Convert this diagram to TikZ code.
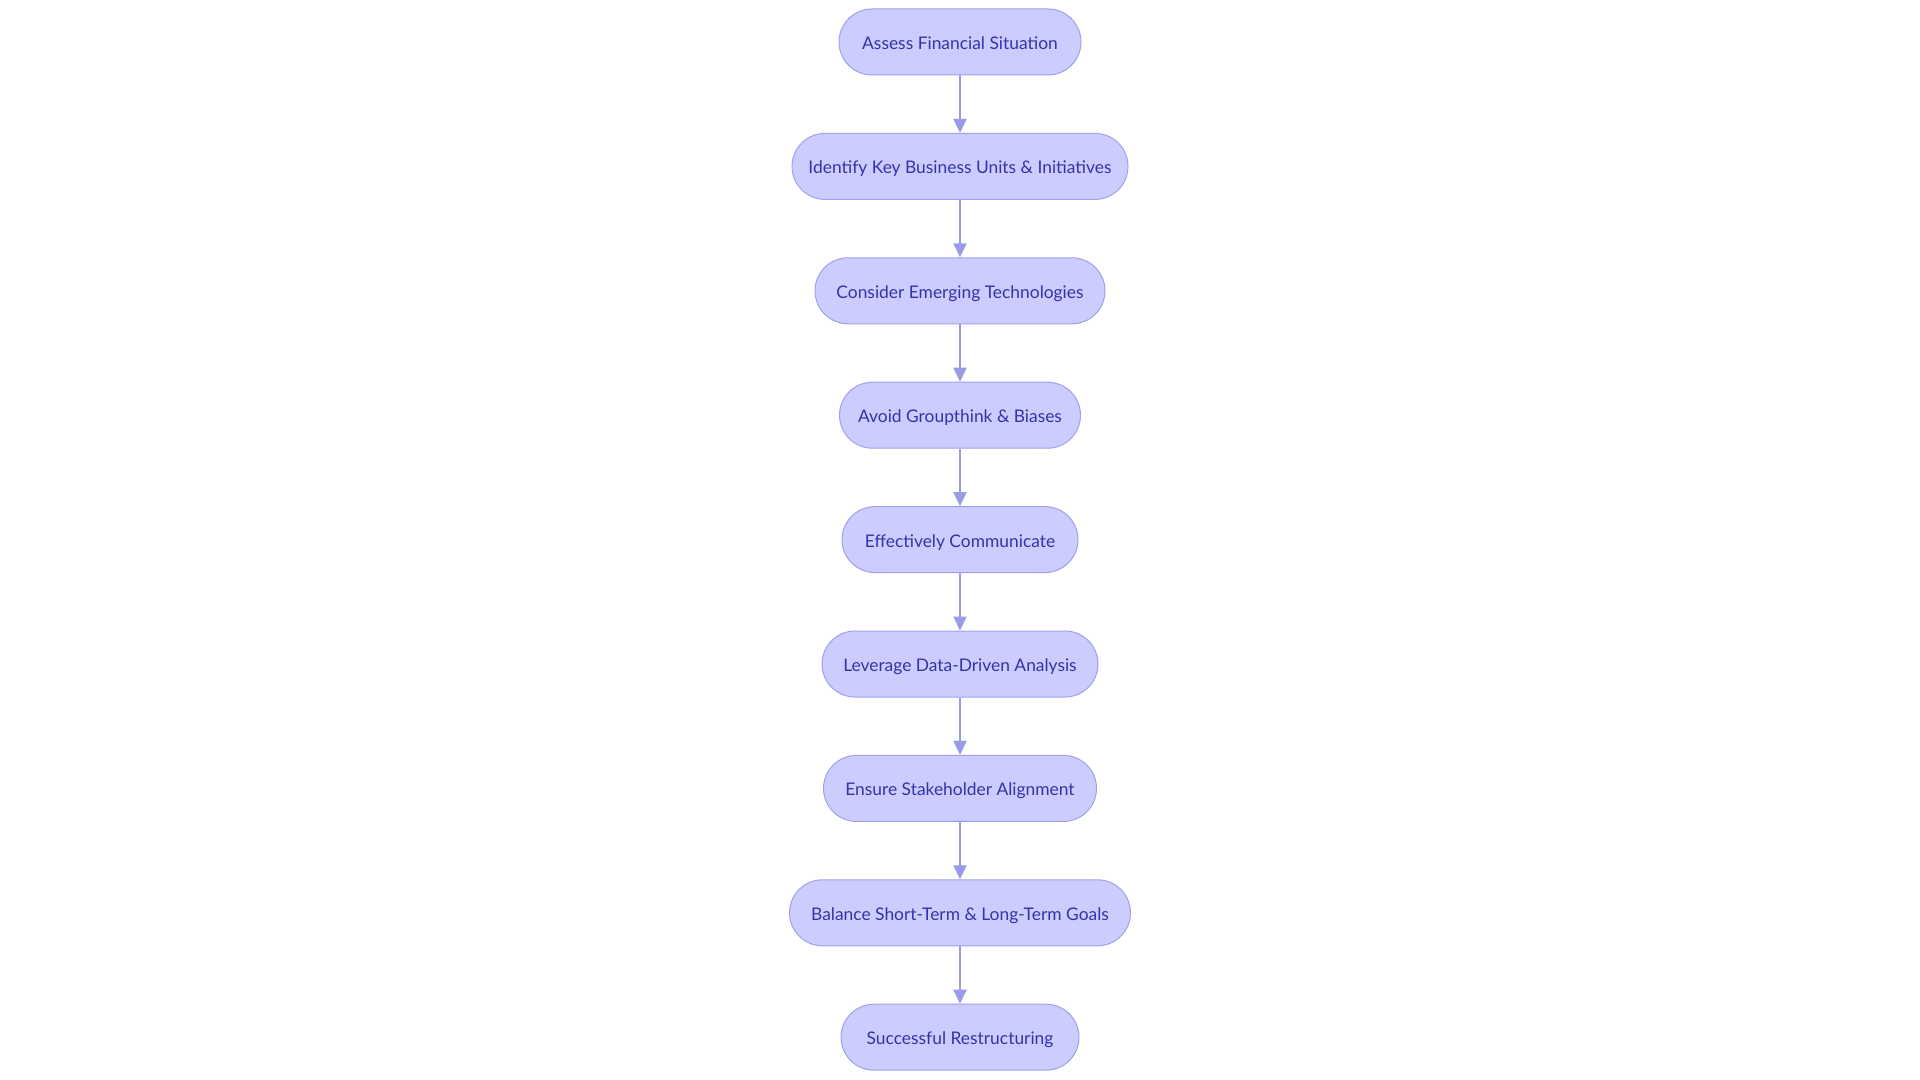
\documentclass[tikz,border=0pt]{standalone}
\usepackage{fontspec}
\setmainfont{Lato}
\usetikzlibrary{arrows.meta}
\definecolor{nodefill}{RGB}{204,204,255}
\definecolor{nodedraw}{RGB}{160,160,236}
\definecolor{nodetext}{RGB}{52,52,170}
\definecolor{edgecol}{RGB}{154,154,232}
\tikzset{
  stepbox/.style={draw=nodedraw, fill=nodefill, line width=0.5pt, rounded corners=16.5pt,
    minimum height=33pt, inner sep=0pt, text height=7.5pt, text depth=0pt, text=nodetext,
    font=\fontsize{8.7pt}{10pt}\selectfont},
  flow/.style={draw=edgecol, line width=1pt, -{Triangle[length=7pt,width=6.5pt]}}
}
\begin{document}
\begin{tikzpicture}[x=0.5pt,y=-0.5pt]
\useasboundingbox (0,0) rectangle (1920,1080);
\node[stepbox, minimum width=121pt] (n1) at (960,42) {Assess Financial Situation};
\node[stepbox, minimum width=168pt] (n2) at (960,166.4) {Identify Key Business Units \& Initiatives};
\node[stepbox, minimum width=145pt] (n3) at (960,290.8) {Consider Emerging Technologies};
\node[stepbox, minimum width=120.5pt] (n4) at (960,415.2) {Avoid Groupthink \& Biases};
\node[stepbox, minimum width=118pt] (n5) at (960,539.6) {Effectively Communicate};
\node[stepbox, minimum width=138pt] (n6) at (960,664) {Leverage Data-Driven Analysis};
\node[stepbox, minimum width=136.5pt] (n7) at (960,788.4) {Ensure Stakeholder Alignment};
\node[stepbox, minimum width=170.5pt] (n8) at (960,912.8) {Balance Short-Term \& Long-Term Goals};
\node[stepbox, minimum width=119pt] (n9) at (960,1037.2) {Successful Restructuring};
\foreach \a/\b in {n1/n2,n2/n3,n3/n4,n4/n5,n5/n6,n6/n7,n7/n8,n8/n9}
  \draw[flow] (\a) -- (\b);
\end{tikzpicture}
\end{document}
